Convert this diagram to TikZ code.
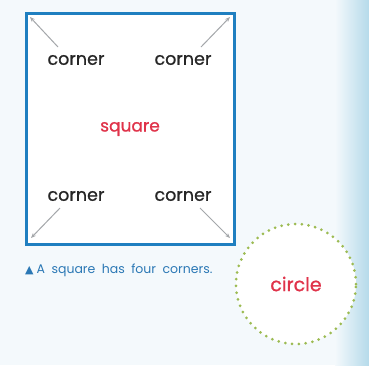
\documentclass[tikz,border=0pt]{standalone}
\usepackage{fontspec}
\setmainfont{Poppins}
\newfontfamily\medfont[FakeBold=0.9]{Poppins}
\newfontfamily\symfont{DejaVu Sans}
\usetikzlibrary{arrows.meta}
\definecolor{sqblue}{HTML}{1F7FC0}
\definecolor{capblue}{HTML}{2B78B5}
\definecolor{lblred}{HTML}{E0334A}
\definecolor{dotgreen}{HTML}{9CBB52}
\definecolor{bgpale}{HTML}{F4F9FC}
\definecolor{bgblue}{HTML}{B5DAEA}
\definecolor{arrgray}{HTML}{A4A7AA}
\tikzset{
  corner/.style={font=\medfont\fontsize{17.5}{17.5}\selectfont, text=black!85, inner sep=0pt},
  shapelbl/.style={font=\medfont\fontsize{17}{17}\selectfont, text=lblred, inner sep=0pt},
  ptr/.style={draw=arrgray, line width=1pt, -{Stealth[length=5pt,width=4pt]}},
}
\begin{document}
\begin{tikzpicture}[x=1pt,y=-1pt]
\useasboundingbox (0,0) rectangle (369,365);
\fill[bgpale] (0,0) rectangle (369,365);
\shade[left color=bgpale, right color=bgblue] (335,0) rectangle (369,365);
% square
\node[draw=sqblue, line width=3pt, fill=white, minimum width=208pt, minimum height=231pt, inner sep=0pt] (sq) at (130.5,129) {};
\node[shapelbl] (sqlbl) at (130,129) {square};
\node[corner] (c1) at (76,60) {corner};
\node[corner] (c2) at (183,60) {corner};
\node[corner] (c3) at (76,196) {corner};
\node[corner] (c4) at (183,196) {corner};
\coordinate (t1) at (30,17);
\coordinate (t2) at (230,17);
\coordinate (t3) at (31,238);
\coordinate (t4) at (230,238);
\coordinate (s1) at (58,47);
\coordinate (s2) at (201,47);
\coordinate (s3) at (60,208);
\coordinate (s4) at (200,208);
\draw[ptr] (s1) -- (t1);
\draw[ptr] (s2) -- (t2);
\draw[ptr] (s3) -- (t3);
\draw[ptr] (s4) -- (t4);
% caption
\node[anchor=west, inner sep=0pt, text=capblue, font=\fontsize{12.5}{12.5}\selectfont] (cap) at (25,270) {{\symfont\fontsize{11}{11}\selectfont ▲}\hspace{3pt}A\hspace{6.5pt}square\hspace{6.5pt}has\hspace{6.5pt}four\hspace{6.5pt}corners.};
% circle
\node[circle, minimum size=120pt, fill=white, draw=dotgreen, line width=3pt, line cap=round, dash pattern=on 0pt off 6.8pt, inner sep=0pt] (circ) at (296,284) {};
\node[shapelbl, font=\medfont\fontsize{19}{19}\selectfont] (clbl) at (296,284) {circle};
\end{tikzpicture}
\end{document}
